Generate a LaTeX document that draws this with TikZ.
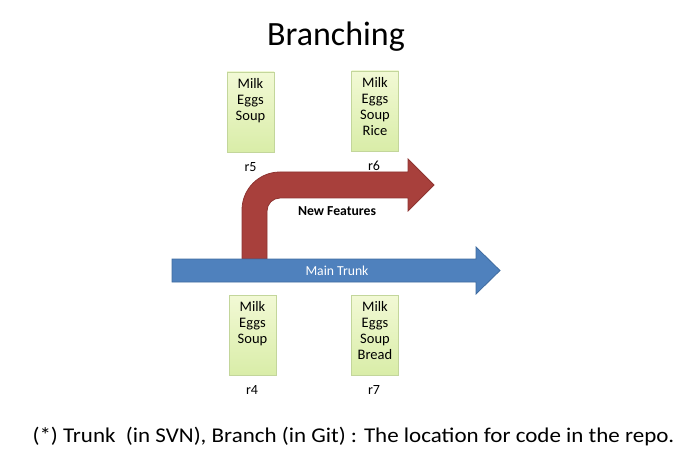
\documentclass[tikz,border=0pt]{standalone}
\usepackage{fontspec}
\setmainfont{Carlito}
\begin{document}
\begin{tikzpicture}[x=1pt,y=-1pt,
  itembox/.style={draw=boxedge, top color=boxtop, bottom color=boxbot, minimum width=47pt, minimum height=80pt, inner sep=0pt},
  itemtext/.style={anchor=north, align=center, font=\fontsize{14.5}{16.3}\selectfont, inner sep=0pt},
  revlabel/.style={font=\fontsize{14}{16}\selectfont, inner sep=0pt},
  arrowlabel/.style={font=\fontsize{13.7}{16}\selectfont, inner sep=0pt}]
\definecolor{boxedge}{HTML}{C3D69B}
\definecolor{boxtop}{HTML}{F2F9D5}
\definecolor{boxbot}{HTML}{D9EDA8}
\definecolor{redfill}{HTML}{A8403C}
\definecolor{rededge}{HTML}{8E3431}
\definecolor{bluefill}{HTML}{4F81BD}
\definecolor{blueedge}{HTML}{3E6B9F}
\useasboundingbox (0,0) rectangle (685,465);
% title
\node (title) at (336,37) {\fontsize{34}{40}\selectfont Branching};
% red branch arrow
\draw[rededge, fill=redfill, line width=0.8pt]
  (242,259) -- (242,210)
  .. controls (242,189) and (259,172) .. (280,172)
  -- (408,172) -- (408,159) -- (434,185) -- (408,211) -- (408,198)
  -- (280,198) .. controls (272.8,198) and (267,203.8) .. (267,211)
  -- (267,259) -- cycle;
% blue trunk arrow
\draw[blueedge, fill=bluefill, line width=0.8pt]
  (172,259) -- (476,259) -- (476,247) -- (500,270.5) -- (476,294) -- (476,282) -- (172,282) -- cycle;
\node[arrowlabel, text=white] (trunk) at (337,270.5) {Main Trunk};
\node[arrowlabel] (feat) at (337,211) {\textbf{New Features}};
% boxes
\node[itembox] (b5) at (250.5,112) {};
\node[itemtext] (t5) at ([yshift=-6pt]b5.north) {Milk\\Eggs\\Soup};
\node[revlabel] (r5) at (250.5,167) {r5};
\node[itembox] (b6) at (375,111) {};
\node[itemtext] (t6) at ([yshift=-6pt]b6.north) {Milk\\Eggs\\Soup\\Rice};
\node[revlabel] (r6) at (374,166) {r6};
\node[itembox] (b4) at (252.5,335) {};
\node[itemtext] (t4) at ([yshift=-6pt]b4.north) {Milk\\Eggs\\Soup};
\node[revlabel] (r4) at (252,390) {r4};
\node[itembox] (b7) at (375,335) {};
\node[itemtext] (t7) at ([yshift=-6pt]b7.north) {Milk\\Eggs\\Soup\\Bread};
\node[revlabel] (r7) at (374,390) {r7};
% footer
\node (foot) at (353.5,437) {\scalebox{1.095}[1]{\fontsize{21}{24}\selectfont (*) Trunk\ \ (in SVN), Branch (in Git) : The location for code in the repo.}};
\end{tikzpicture}
\end{document}
